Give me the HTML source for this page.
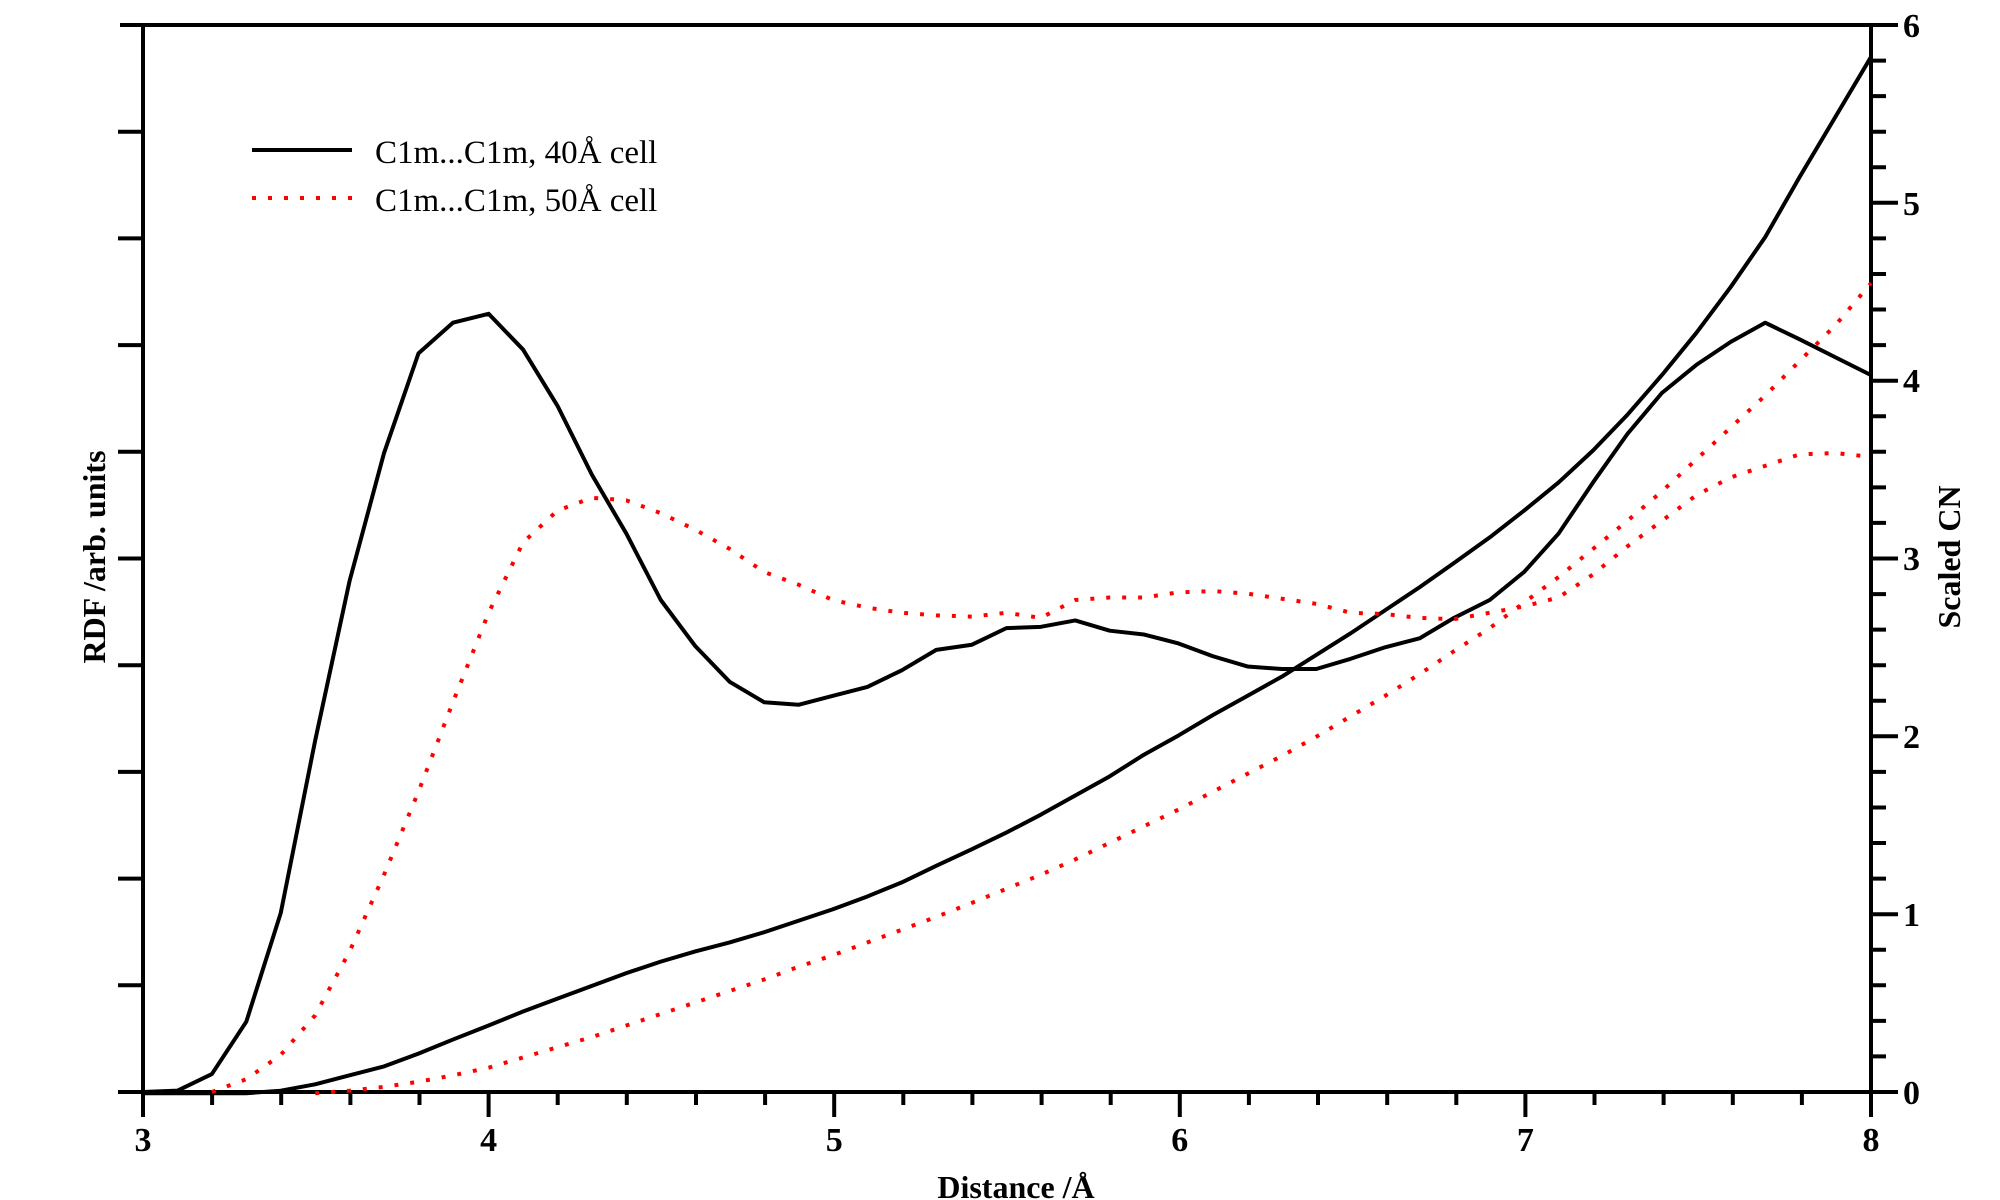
<!DOCTYPE html>
<html><head><meta charset="utf-8"><style>
html,body{margin:0;padding:0;background:#fff;}
svg{display:block;}
text{font-family:"Liberation Serif",serif;}
</style></head><body>
<svg width="2000" height="1200" viewBox="0 0 2000 1200" xmlns="http://www.w3.org/2000/svg">
<g stroke="#000" stroke-width="4" fill="none">
<line x1="120" y1="25" x2="1898" y2="25"/>
<line x1="118" y1="1092" x2="1898" y2="1092"/>
<line x1="143" y1="23" x2="143" y2="1117"/>
<line x1="1871" y1="23" x2="1871" y2="1094"/>
<path d="M118 131.7H143M118 238.4H143M118 345.1H143M118 451.8H143M118 558.5H143M118 665.2H143M118 771.9H143M118 878.6H143M118 985.3H143"/>
<path d="M1871 202.8H1898M1871 380.7H1898M1871 558.5H1898M1871 736.3H1898M1871 914.2H1898"/>
<path d="M1871 60.6H1886M1871 96.1H1886M1871 131.7H1886M1871 167.3H1886M1871 238.4H1886M1871 274H1886M1871 309.5H1886M1871 345.1H1886M1871 416.2H1886M1871 451.8H1886M1871 487.4H1886M1871 522.9H1886M1871 594.1H1886M1871 629.6H1886M1871 665.2H1886M1871 700.8H1886M1871 771.9H1886M1871 807.5H1886M1871 843H1886M1871 878.6H1886M1871 949.7H1886M1871 985.3H1886M1871 1020.9H1886M1871 1056.4H1886"/>
<path d="M488.6 1092V1117M834.2 1092V1117M1179.8 1092V1117M1525.4 1092V1117M1871 1092V1117"/>
<path d="M212.1 1092V1105M281.2 1092V1105M350.4 1092V1105M419.5 1092V1105M557.7 1092V1105M626.8 1092V1105M696 1092V1105M765.1 1092V1105M903.3 1092V1105M972.4 1092V1105M1041.6 1092V1105M1110.7 1092V1105M1248.9 1092V1105M1318 1092V1105M1387.2 1092V1105M1456.3 1092V1105M1594.5 1092V1105M1663.6 1092V1105M1732.8 1092V1105M1801.9 1092V1105"/>
</g>
<g font-weight="bold" font-size="34" text-anchor="middle" fill="#000">
<text x="143" y="1151">3</text><text x="488.6" y="1151">4</text><text x="834.2" y="1151">5</text><text x="1179.8" y="1151">6</text><text x="1525.4" y="1151">7</text><text x="1871" y="1151">8</text>
</g>
<g font-weight="bold" font-size="34" fill="#000">
<text x="1903" y="37">6</text><text x="1903" y="215">5</text><text x="1903" y="392">4</text><text x="1903" y="570">3</text><text x="1903" y="748">2</text><text x="1903" y="926">1</text><text x="1903" y="1104">0</text>
</g>
<text x="1016" y="1198" font-weight="bold" font-size="32" text-anchor="middle">Distance /Å</text>
<text transform="translate(105,557) rotate(-90)" font-weight="bold" font-size="32" text-anchor="middle">RDF /arb. units</text>
<text transform="translate(1960,557) rotate(-90)" font-weight="bold" font-size="32" text-anchor="middle">Scaled CN</text>
<line x1="252" y1="150" x2="352" y2="150" stroke="#000" stroke-width="4"/>
<line x1="252" y1="198" x2="352" y2="198" stroke="#f00" stroke-width="4" stroke-dasharray="4 12"/>
<text x="375" y="163" font-size="33">C1m...C1m, 40Å cell</text>
<text x="375" y="211" font-size="33">C1m...C1m, 50Å cell</text>
<g transform="translate(-1.11,-0.556) scale(1.2753,1.2778)" fill="none" stroke-linejoin="round">
<polyline stroke="#000" stroke-width="3.13" points="113,855 140,854 167,841 194,800 221,715 248,580 275,455 302,355 329,277 356,253 384,246 411,274 438,318 465,372 492,418 519,470 546,506 573,534 600,550 627,552 654,545 681,538 708,525 735,509 763,505 790,492 817,491 844,486 871,494 898,497 925,504 952,514 979,522 1006,524 1033,524 1060,516 1087,507 1114,500 1141,484 1169,470 1196,448 1223,418 1250,378 1277,340 1304,308 1331,286 1358,268 1385,253 1412,266 1440,280 1468,294"/>
<polyline stroke="#000" stroke-width="3.13" points="113,856 194,856 221,854 248,849 275,842 302,835 329,825 356,814 384,803 411,792 438,782 465,772 492,762 519,753 546,745 573,738 600,730 627,721 654,712 681,702 708,691 735,678 763,665 790,652 817,638 844,623 871,608 898,591 925,576 952,560 979,545 1006,530 1033,513 1060,496 1087,478 1114,460 1141,441 1169,421 1196,400 1223,378 1250,353 1277,325 1304,294 1331,261 1358,225 1385,186 1412,139 1440,92 1468,45"/>
<polyline stroke="#f00" stroke-width="3.13" stroke-dasharray="3.1 9.4" points="167,855 194,845 221,826 248,795 275,745 302,685 329,620 356,550 384,480 411,425 438,400 465,390 492,392 519,402 546,415 573,430 600,448 627,458 654,470 681,476 708,480 735,482 763,483 790,480 817,484 844,470 871,468 898,468 925,464 952,463 979,465 1006,469 1033,473 1060,480 1087,481 1114,484 1141,485 1169,480 1196,475 1223,468 1250,450 1277,428 1304,408 1331,388 1358,374 1385,365 1412,356 1440,355 1468,358"/>
<polyline stroke="#f00" stroke-width="3.13" stroke-dasharray="3.1 9.4" points="248,856 275,854 302,851 329,847 356,842 384,836 411,828 438,820 465,812 492,803 519,794 546,785 573,776 600,767 627,757 654,748 681,738 708,728 735,718 763,707 790,696 817,685 844,673 871,660 898,647 925,634 952,620 979,606 1006,592 1033,577 1060,561 1087,545 1114,528 1141,510 1169,492 1196,472 1223,452 1250,430 1277,408 1304,385 1331,360 1358,335 1385,310 1412,283 1440,255 1468,222"/>
</g>
</svg>
</body></html>
